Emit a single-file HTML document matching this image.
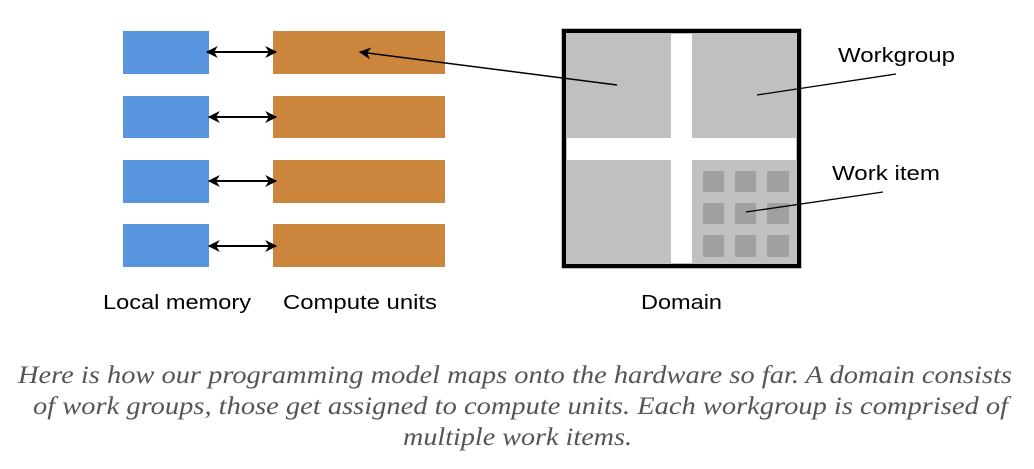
<!DOCTYPE html>
<html><head><meta charset="utf-8"><style>
html,body{margin:0;padding:0;background:#fff;width:1034px;height:469px;overflow:hidden}
</style></head><body>
<svg width="1034" height="469" viewBox="0 0 1034 469" xmlns="http://www.w3.org/2000/svg">
<defs>
<marker id="ah" viewBox="0 0 10 10" refX="9" refY="5" markerWidth="12" markerHeight="12" markerUnits="userSpaceOnUse" orient="auto-start-reverse">
<path d="M0,0 L10,5 L0,10 L3,5 Z" fill="#000"/>
</marker>
</defs>
<g fill="#5995de">
<rect x="123" y="31" width="86" height="43"/>
<rect x="123" y="96" width="86" height="42"/>
<rect x="123" y="160" width="86" height="43"/>
<rect x="123" y="224" width="86" height="43"/>
</g>
<g fill="#cc853c">
<rect x="273" y="31" width="172" height="43"/>
<rect x="273" y="96" width="172" height="42"/>
<rect x="273" y="160" width="172" height="43"/>
<rect x="273" y="224" width="172" height="43"/>
</g>
<g stroke="#000" stroke-width="2" marker-start="url(#ah)" marker-end="url(#ah)">
<line x1="207" y1="52" x2="276" y2="52"/>
<line x1="209" y1="117" x2="276" y2="117"/>
<line x1="209" y1="181" x2="276" y2="181"/>
<line x1="209" y1="246" x2="276" y2="246"/>
</g>
<rect x="564" y="31" width="235" height="235" fill="#fff" stroke="#000" stroke-width="4.5"/>
<g fill="#c0c0c0">
<rect x="566" y="33" width="105" height="105"/>
<rect x="692" y="33" width="105" height="105"/>
<rect x="566" y="160" width="105" height="104"/>
<rect x="692" y="160" width="105" height="104"/>
</g>
<g fill="#a0a0a0">
<rect x="703" y="171" width="21" height="21"/><rect x="735" y="171" width="21" height="21"/><rect x="767" y="171" width="22" height="21"/>
<rect x="703" y="203" width="21" height="21"/><rect x="735" y="203" width="21" height="21"/><rect x="767" y="203" width="22" height="21"/>
<rect x="703" y="235" width="21" height="22"/><rect x="735" y="235" width="21" height="22"/><rect x="767" y="235" width="22" height="22"/>
</g>
<line x1="617" y1="85" x2="360" y2="52" stroke="#000" stroke-width="1.5" marker-end="url(#ah)"/>
<line x1="757" y1="95" x2="896" y2="74" stroke="#000" stroke-width="1.3"/>
<line x1="746" y1="212" x2="883" y2="192" stroke="#000" stroke-width="1.3"/>
<g font-family="Liberation Sans, sans-serif" font-size="20" fill="#000">
<text x="838" y="62" textLength="117" lengthAdjust="spacingAndGlyphs">Workgroup</text>
<text x="832" y="180" textLength="108" lengthAdjust="spacingAndGlyphs">Work item</text>
<text x="103" y="309" textLength="148" lengthAdjust="spacingAndGlyphs">Local memory</text>
<text x="283" y="309" textLength="154" lengthAdjust="spacingAndGlyphs">Compute units</text>
<text x="641" y="309" textLength="81" lengthAdjust="spacingAndGlyphs">Domain</text>
</g>
<g font-family="Liberation Serif, serif" font-style="italic" font-size="25" fill="#555">
<text x="18" y="383" textLength="994" lengthAdjust="spacingAndGlyphs">Here is how our programming model maps onto the hardware so far. A domain consists</text>
<text x="33" y="414" textLength="975" lengthAdjust="spacingAndGlyphs">of work groups, those get assigned to compute units. Each workgroup is comprised of</text>
<text x="403" y="445" textLength="229" lengthAdjust="spacingAndGlyphs">multiple work items.</text>
</g>
</svg>
</body></html>
